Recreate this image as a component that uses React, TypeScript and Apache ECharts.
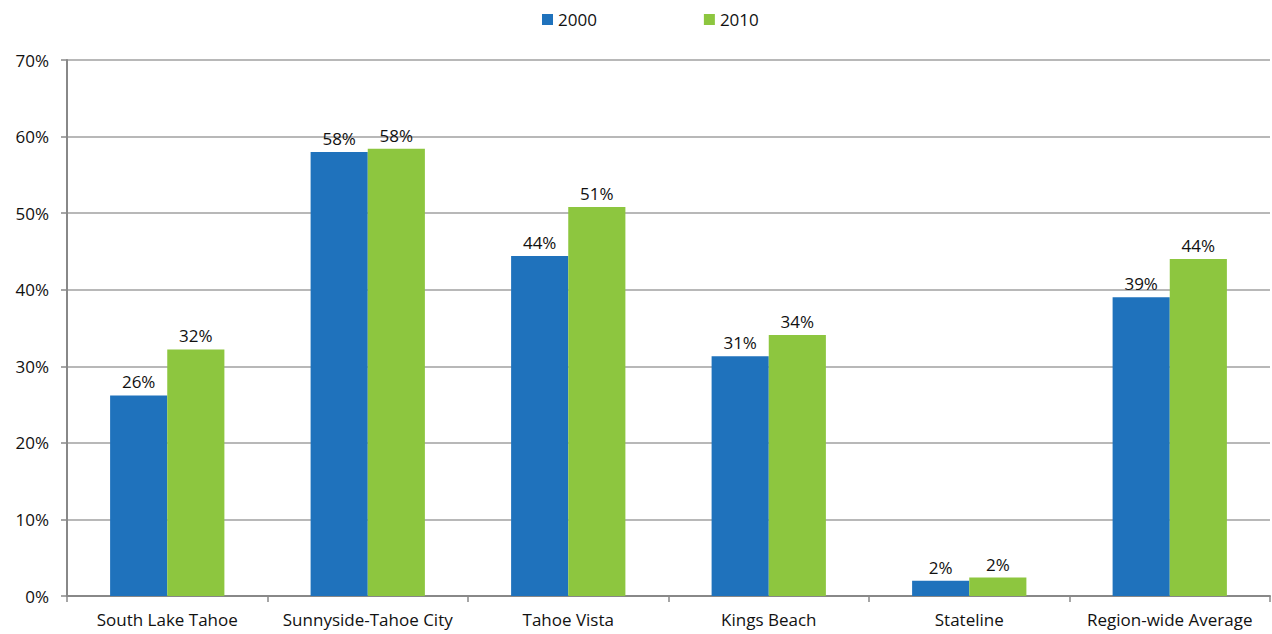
import React, { useEffect, useRef } from "react";
import * as echarts from "echarts";

const categories = [
  "South Lake Tahoe",
  "Sunnyside-Tahoe City",
  "Tahoe Vista",
  "Kings Beach",
  "Stateline",
  "Region-wide Average",
];
const series2000 = [26.2, 58.0, 44.4, 31.3, 2.0, 39.0];
const series2010 = [32.2, 58.4, 50.8, 34.1, 2.4, 44.0];
const yTicks = [0, 10, 20, 30, 40, 50, 60, 70];

const FONT = "'Open Sans', 'Noto Sans', sans-serif";

export default function App() {
  const ref = useRef<HTMLDivElement>(null);
  useEffect(() => {
    document.body.style.margin = "0";
    if (!ref.current) return;
    const chart = echarts.init(ref.current, undefined, { renderer: "svg" });
    const label = {
      show: true,
      position: "top" as const,
      distance: 5,
      color: "#111",
      fontSize: 17,
      fontFamily: FONT,
      formatter: (p: any) => Math.round(p.value) + "%",
    };
    chart.setOption({
      animation: false,
      textStyle: { fontFamily: FONT },
      legend: {
        top: 6,
        left: 537,
        itemWidth: 11,
        itemHeight: 11,
        itemGap: 107,
        icon: "rect",
        textStyle: { fontSize: 17, color: "#111", fontFamily: FONT },
        data: ["2000", "2010"],
      },
      grid: { left: 67, right: 2, top: 60, bottom: 38, containLabel: false },
      xAxis: {
        type: "category",
        data: categories,
        axisLine: { lineStyle: { color: "#888", width: 2 } },
        axisTick: { show: true, length: 6, alignWithLabel: false, lineStyle: { color: "#888", width: 1.5 } },
        axisLabel: { interval: 0, fontSize: 17, color: "#111", margin: 15, fontFamily: FONT },
      },
      yAxis: {
        type: "value",
        min: 0,
        max: 70,
        interval: 10,
        axisLine: { show: true, lineStyle: { color: "#888", width: 2 } },
        axisTick: { show: true, length: 6, lineStyle: { color: "#888", width: 1.5 } },
        splitLine: { lineStyle: { color: "#A0A0A0", width: 1.5 } },
        axisLabel: {
          fontSize: 17,
          color: "#111",
          margin: 18,
          fontFamily: FONT,
          formatter: (v: number) => (yTicks.includes(v) ? v + "%" : ""),
        },
      },
      series: [
        {
          name: "2000",
          type: "bar",
          data: series2000,
          itemStyle: { color: "#1F72BC" },
          barGap: "0%",
          barCategoryGap: "43%",
          label,
        },
        {
          name: "2010",
          type: "bar",
          data: series2010,
          itemStyle: { color: "#8DC63F" },
          barGap: "0%",
          barCategoryGap: "43%",
          label,
        },
      ],
    });
    return () => chart.dispose();
  }, []);
  return <div ref={ref} style={{ width: 1272, height: 634 }} />;
}
